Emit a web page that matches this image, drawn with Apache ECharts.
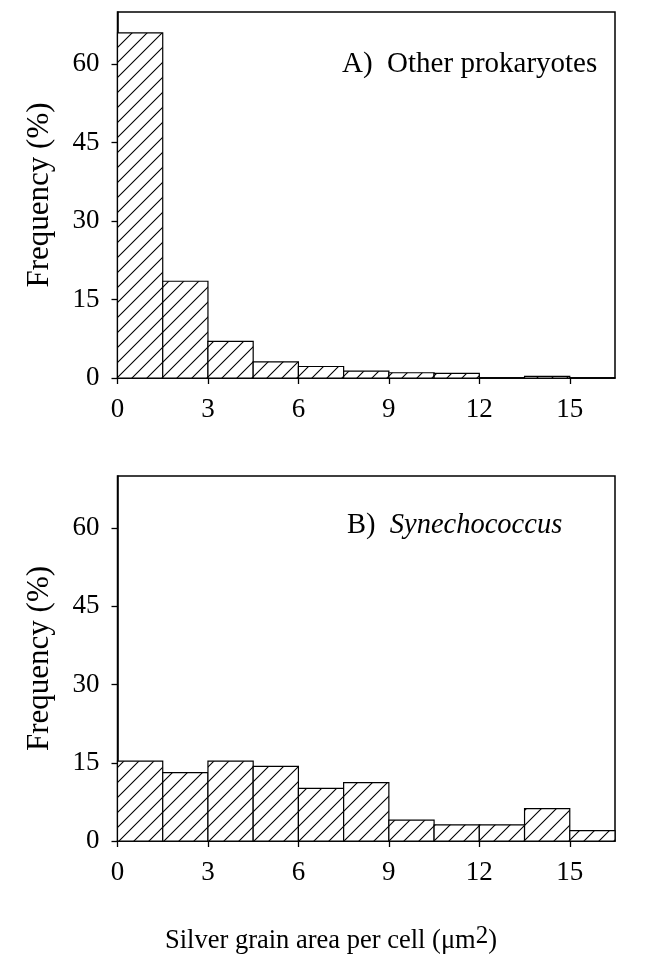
<!DOCTYPE html>
<html>
<head>
<meta charset="utf-8">
<script src="https://cdn.jsdelivr.net/npm/echarts@6/dist/echarts.min.js"></script>
<style>
html,body{margin:0;padding:0;background:#fff;}
#chart{width:647px;height:960px;}
</style>
</head>
<body>
<div id="chart"></div>
<script>
// ---- data ----
const binStart = [0, 1.5, 3, 4.5, 6, 7.5, 9, 10.5, 12, 13.5, 15];
const binEnd   = [1.5, 3, 4.5, 6, 7.5, 9, 10.5, 12, 13.5, 15, 16.5];
const otherProkaryotes = [66, 18.5, 7, 3.1, 2.2, 1.3, 1.0, 0.9, 0, 0.3, 0];
const synechococcus    = [15.3, 13.1, 15.3, 14.3, 10.1, 11.2, 4.0, 3.1, 3.1, 6.2, 2.0];
const yTicks = [0, 15, 30, 45, 60];
const xTicks = [0, 3, 6, 9, 12, 15];

const FONT = "'Liberation Serif', 'Times New Roman', serif";

// hatch pattern tile
const tile = document.createElement('canvas');
tile.width = 15; tile.height = 15;
const g = tile.getContext('2d');
g.fillStyle = '#fff'; g.fillRect(0, 0, 15, 15);
g.strokeStyle = '#000'; g.lineWidth = 1.1;
g.beginPath();
g.moveTo(-2, 17); g.lineTo(17, -2);
g.moveTo(-2, 2); g.lineTo(2, -2);
g.moveTo(13, 17); g.lineTo(17, 13);
g.stroke();
const hatch = { image: tile, repeat: 'repeat' };

function build(values) {
  return binStart.map((s, i) => [s, binEnd[i], values[i]]);
}

function renderItem(params, api) {
  const p0 = api.coord([api.value(0), api.value(2)]);
  const p1 = api.coord([api.value(1), 0]);
  return {
    type: 'rect',
    shape: { x: p0[0], y: p0[1], width: p1[0] - p0[0], height: p1[1] - p0[1] },
    style: { fill: hatch, stroke: '#000', lineWidth: 1.2 }
  };
}

function xAxisCfg(idx) {
  return {
    type: 'value', gridIndex: idx, min: 0, max: 16.5,
    axisLine: { show: true, onZero: false, lineStyle: { color: '#000', width: 1.5 } },
    axisTick: { show: true, length: 6, customValues: xTicks, lineStyle: { color: '#000', width: 1.3 } },
    axisLabel: { customValues: xTicks, margin: 18, color: '#000', fontFamily: FONT, fontSize: 27 },
    splitLine: { show: false }
  };
}
function yAxisCfg(idx) {
  return {
    type: 'value', gridIndex: idx, min: 0, max: 70,
    name: 'Frequency (%)', nameLocation: 'middle', nameGap: 62,
    nameTextStyle: { color: '#000', fontFamily: FONT, fontSize: 31 },
    axisLine: { show: true, lineStyle: { color: '#000', width: 1.5 } },
    axisTick: { show: true, length: 6, customValues: yTicks, lineStyle: { color: '#000', width: 1.3 } },
    axisLabel: { customValues: yTicks, margin: 18, color: '#000', fontFamily: FONT, fontSize: 27 },
    splitLine: { show: false }
  };
}

const chart = echarts.init(document.getElementById('chart'), null, { renderer: 'canvas' });
chart.setOption({
  backgroundColor: '#fff',
  animation: false,
  grid: [
    { left: 117.5, right: 32, top: 12, height: 366, show: true, borderColor: '#000', borderWidth: 1.5, backgroundColor: 'transparent' },
    { left: 117.5, right: 32, top: 476, height: 365, show: true, borderColor: '#000', borderWidth: 1.5, backgroundColor: 'transparent' }
  ],
  xAxis: [xAxisCfg(0), xAxisCfg(1)],
  yAxis: [yAxisCfg(0), yAxisCfg(1)],
  graphic: [
    { type: 'text', left: 342, top: 50, style: { text: 'A)  Other prokaryotes', fontFamily: FONT, fontSize: 29, fill: '#000' } },
    { type: 'text', left: 347, top: 511, style: {
        text: 'B)  {i|Synechococcus}', fontFamily: FONT, fontSize: 28.5, fill: '#000',
        rich: { i: { fontFamily: FONT, fontSize: 28.5, fontStyle: 'italic', fill: '#000' } } } },
    { type: 'text', x: 331, y: 941, style: {
        text: 'Silver grain area per cell (μm{s|2})', fontFamily: FONT, fontSize: 26.5, fill: '#000',
        align: 'center', verticalAlign: 'middle',
        rich: { s: { fontFamily: FONT, fontSize: 25, verticalAlign: 'top', padding: [0, 0, 10, 0] } } } }
  ],
  series: [
    { type: 'custom', xAxisIndex: 0, yAxisIndex: 0, renderItem, data: build(otherProkaryotes), encode: { x: [0, 1], y: 2 } },
    { type: 'custom', xAxisIndex: 1, yAxisIndex: 1, renderItem, data: build(synechococcus), encode: { x: [0, 1], y: 2 } }
  ]
});
</script>
</body>
</html>
